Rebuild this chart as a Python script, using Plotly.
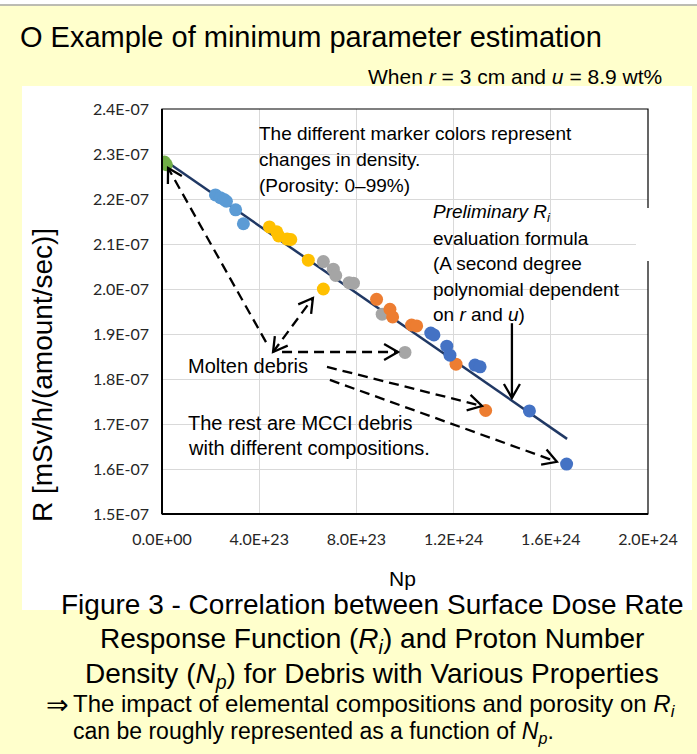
import math
import plotly.graph_objects as go

# ---------------- data ----------------
green_np = [1.0e22, 1.8e22]
green_r = [2.282e-7, 2.276e-7]
lblue_np = [2.20e23, 2.40e23, 2.55e23, 2.65e23, 3.03e23, 3.35e23]
lblue_r = [2.209e-7, 2.203e-7, 2.199e-7, 2.195e-7, 2.176e-7, 2.145e-7]
gold_np = [4.42e23, 4.72e23, 4.80e23, 5.15e23, 5.30e23, 6.02e23, 6.64e23]
gold_r = [2.138e-7, 2.127e-7, 2.118e-7, 2.111e-7, 2.110e-7, 2.064e-7, 2.000e-7]
gray_np = [6.64e23, 7.05e23, 7.15e23, 7.70e23, 7.88e23, 9.06e23, 10.0e23]
gray_r = [2.061e-7, 2.044e-7, 2.030e-7, 2.014e-7, 2.013e-7, 1.944e-7, 1.859e-7]
orange_np = [8.83e23, 9.38e23, 9.49e23, 10.27e23, 10.48e23, 12.1e23, 13.32e23]
orange_r = [1.977e-7, 1.955e-7, 1.938e-7, 1.920e-7, 1.918e-7, 1.833e-7, 1.730e-7]
blue_np = [11.06e23, 11.19e23, 11.72e23, 11.85e23, 12.88e23, 13.09e23, 15.12e23, 16.65e23]
blue_r = [1.902e-7, 1.898e-7, 1.873e-7, 1.853e-7, 1.831e-7, 1.827e-7, 1.729e-7, 1.611e-7]
fit_np = [0.0, 1.667e24]
fit_r = [2.29e-7, 1.667e-7]

x_ticks = [0.0, 4e23, 8e23, 1.2e24, 1.6e24, 2.0e24]
y_ticks = [1.5e-7, 1.6e-7, 1.7e-7, 1.8e-7, 1.9e-7, 2.0e-7, 2.1e-7, 2.2e-7, 2.3e-7, 2.4e-7]
x_tick_labels = ["0.0E+00", "4.0E+23", "8.0E+23", "1.2E+24", "1.6E+24", "2.0E+24"]
y_tick_labels = ["1.5E-07", "1.6E-07", "1.7E-07", "1.8E-07", "1.9E-07",
                 "2.0E-07", "2.1E-07", "2.2E-07", "2.3E-07", "2.4E-07"]

# annotation arrows in data units: (tail_np, tail_r, head_np, head_r, dashed, double)
arrows = [
    (4.28e23, 1.882e-7, 2.5e22, 2.269e-7, True, False),
    (4.57e23, 1.860e-7, 6.21e23, 1.980e-7, True, True),
    (4.94e23, 1.860e-7, 9.71e23, 1.860e-7, True, False),
    (6.79e23, 1.827e-7, 13.17e23, 1.740e-7, True, False),
    (6.91e23, 1.798e-7, 16.25e23, 1.616e-7, True, False),
    (14.4e23, 1.924e-7, 14.4e23, 1.758e-7, False, False),
]

# ---------------- layout geometry ----------------
W, H = 697, 754
ML, MR, MT, MB = 162, 49, 109, 240
PW, PH = W - ML - MR, H - MT - MB
X0, X1 = 0.0, 2.0e24
Y0, Y1 = 1.5e-7, 2.4e-7

ARIAL = "Liberation Sans, Arial, sans-serif"
TICKF = "Lato, Carlito, Calibri, sans-serif"
BG = "#FFFFCC"


def px(p):
    return (p - ML) / PW


def py(p):
    return (H - MB - p) / PH


def d2px(x):
    return ML + (x - X0) / (X1 - X0) * PW


def d2py(y):
    return MT + (Y1 - y) / (Y1 - Y0) * PH


fig = go.Figure()

fig.add_trace(go.Scatter(x=fit_np, y=fit_r, mode="lines",
                         line=dict(color="#203864", width=2.5), hoverinfo="skip"))
series = [
    (green_np, green_r, "#70AD47"),
    (lblue_np, lblue_r, "#5B9BD5"),
    (gold_np, gold_r, "#FFC000"),
    (gray_np, gray_r, "#A5A5A5"),
    (orange_np, orange_r, "#ED7D31"),
    (blue_np, blue_r, "#4472C4"),
]
for xs, ys, c in series:
    fig.add_trace(go.Scatter(x=xs, y=ys, mode="markers",
                             marker=dict(color=c, size=13, line=dict(width=0))))

shapes = []
shapes.append(dict(type="rect", xref="paper", yref="paper", x0=px(0), x1=px(W),
                   y0=py(0), y1=py(4.5), fillcolor="white", line=dict(width=0), layer="below"))
shapes.append(dict(type="line", xref="paper", yref="paper", x0=px(0), x1=px(W),
                   y0=py(5), y1=py(5), line=dict(color="#A6A6A6", width=1.5), layer="below"))
shapes.append(dict(type="rect", xref="paper", yref="paper", x0=px(22), x1=px(692),
                   y0=py(610), y1=py(86), fillcolor="white", line=dict(width=0), layer="below"))
shapes.append(dict(type="rect", xref="paper", yref="paper", x0=0, x1=1, y0=0, y1=1,
                   line=dict(color="black", width=1.2), layer="above"))
shapes.append(dict(type="line", xref="paper", yref="paper", x0=0, x1=0, y0=0, y1=1,
                   line=dict(color="black", width=2), layer="above"))
shapes.append(dict(type="line", xref="paper", yref="paper", x0=0, x1=1, y0=0, y1=0,
                   line=dict(color="black", width=2), layer="above"))
shapes.append(dict(type="rect", xref="paper", yref="paper", x0=px(636), x1=px(662),
                   y0=py(261), y1=py(208), fillcolor="white", line=dict(width=0), layer="above"))


def head_path(tx, ty, hx, hy, L=16, ang=30):
    dx, dy = tx - hx, ty - hy
    n = math.hypot(dx, dy)
    ux, uy = dx / n, dy / n
    pts = []
    for s in (1, -1):
        a = math.radians(ang) * s
        rx = ux * math.cos(a) - uy * math.sin(a)
        ry = ux * math.sin(a) + uy * math.cos(a)
        pts.append((hx + L * rx, hy + L * ry))
    return "M {} {} L {} {} L {} {}".format(px(pts[0][0]), py(pts[0][1]), px(hx), py(hy),
                                          px(pts[1][0]), py(pts[1][1]))


for tx, ty, hx, hy, dashed, double in arrows:
    shapes.append(dict(type="line", xref="x", yref="y", x0=tx, y0=ty, x1=hx, y1=hy,
                       line=dict(color="black", width=2.3, dash="10px,6px" if dashed else "solid"),
                       layer="above"))
    tpx, tpy, hpx, hpy = d2px(tx), d2py(ty), d2px(hx), d2py(hy)
    shapes.append(dict(type="path", xref="paper", yref="paper",
                       path=head_path(tpx, tpy, hpx, hpy),
                       line=dict(color="black", width=2.3), layer="above"))
    if double:
        shapes.append(dict(type="path", xref="paper", yref="paper",
                           path=head_path(hpx, hpy, tpx, tpy),
                           line=dict(color="black", width=2.3), layer="above"))

annotations = []


def txt(text, x, y, size, xanchor="left", family=ARIAL, angle=0):
    annotations.append(dict(text=text, x=px(x), y=py(y), xref="paper", yref="paper",
                            xanchor=xanchor, yanchor="middle", showarrow=False,
                            textangle=angle,
                            font=dict(family=family, size=size, color="black")))


txt("O Example of minimum parameter estimation", 18, 37, 29)
txt("When <i>r</i> = 3 cm and <i>u</i> = 8.9 wt%", 664, 77, 21, xanchor="right")

txt("The different marker colors represent", 257, 133, 19)
txt("changes in density.", 257, 159, 19)
txt("(Porosity: 0\u201399%)", 257, 185, 19)

txt("<i>Preliminary R<sub>i</sub></i>", 431, 213, 19)
txt("evaluation formula", 431, 238, 19)
txt("(A second degree", 431, 263, 19)
txt("polynomial dependent", 431, 289, 19)
txt("on <i>r</i> and <i>u</i>)", 431, 314, 19)

txt("Molten debris", 186, 366, 20)
txt("The rest are MCCI debris", 186, 423, 20)
txt("with different compositions.", 186, 448, 20)

txt("R [mSv/h/(amount/sec)]", 42, 375, 28, xanchor="center", angle=-90)
txt("Np", 402, 578, 21, xanchor="center")

txt("Figure 3 - Correlation between Surface Dose Rate", 372, 604, 28, xanchor="center")
txt("Response Function (<i>R<sub>i</sub></i>) and Proton Number", 372, 640, 28, xanchor="center")
txt("Density (<i>N<sub>p</sub></i>) for Debris with Various Properties", 372, 675, 28, xanchor="center")
txt("\u21d2", 44, 704, 27, family="DejaVu Sans, sans-serif")
txt("The impact of elemental compositions and porosity on <i>R<sub>i</sub></i>", 71, 705, 24)
txt("can be roughly represented as a function of <i>N<sub>p</sub></i>.", 71, 732, 23)

fig.update_layout(
    width=W, height=H,
    margin=dict(l=ML, r=MR, t=MT, b=MB, pad=0),
    paper_bgcolor=BG, plot_bgcolor="white",
    showlegend=False,
    shapes=shapes, annotations=annotations,
    xaxis=dict(range=[X0, X1], tickvals=x_ticks, ticktext=x_tick_labels,
               showgrid=True, gridcolor="#D9D9D9", gridwidth=1, zeroline=False,
               showline=False, ticks="", ticklabelstandoff=14,
               tickfont=dict(family=TICKF, size=16, color="#262626")),
    yaxis=dict(range=[Y0, Y1], tickvals=y_ticks, ticktext=y_tick_labels,
               showgrid=True, gridcolor="#D9D9D9", gridwidth=1, zeroline=False,
               showline=False, ticks="", ticklabelstandoff=12,
               tickfont=dict(family=TICKF, size=16, color="#262626")),
)

fig.write_html("out.html")
